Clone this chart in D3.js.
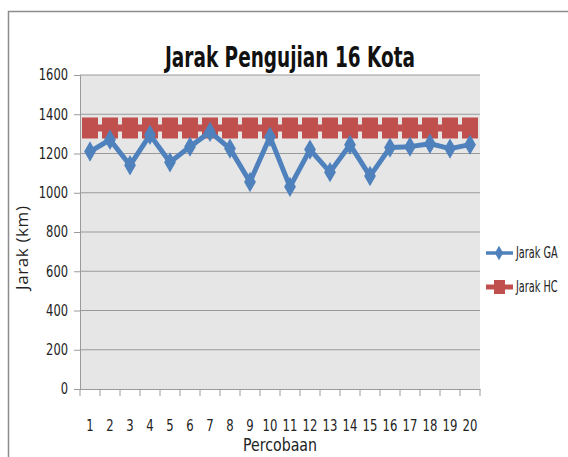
<!DOCTYPE html>
<html><head><meta charset="utf-8">
<script src="https://cdn.jsdelivr.net/npm/d3@7"></script>
<style>body{margin:0;background:#fff}svg{display:block}text{font-family:"Liberation Sans Narrow","DejaVu Sans Condensed",sans-serif}</style>
</head><body>
<script>
const categories = d3.range(1, 21).map(String);
const jarakGA = [1210, 1270, 1140, 1295, 1155, 1235, 1310, 1225, 1055, 1285, 1030, 1220, 1105, 1245, 1085, 1230, 1235, 1250, 1225, 1245];
const jarakHC = Array(20).fill(1330);
const yTicks = [0, 200, 400, 600, 800, 1000, 1200, 1400, 1600];
const seriesNames = ["Jarak GA", "Jarak HC"];
const colors = ["#4f81bd", "#c0504d"];

const W = 568, H = 457;
const svg = d3.select("body").append("svg").attr("width", W).attr("height", H);
svg.append("rect").attr("x", 8.5).attr("y", 11.5).attr("width", W).attr("height", H).attr("fill", "#fff").attr("stroke", "#8c8c8c").attr("stroke-width", 1.5);

const L = 80, R = 480, T = 75, B = 389;
const x = d3.scaleBand().domain(categories).range([L, R]);
const y = d3.scaleLinear().domain([0, 1600]).range([B, T]);

svg.append("rect").attr("x", L).attr("y", T).attr("width", R - L).attr("height", B - T).attr("fill", "#e6e6e6");
svg.append("g").selectAll("line").data(yTicks.slice(1)).join("line")
  .attr("x1", L).attr("x2", R).attr("y1", d => y(d)).attr("y2", d => y(d))
  .attr("stroke", "#9a9a9a").attr("stroke-width", 1);

const ya = svg.append("g").attr("transform", `translate(${L},0)`)
  .call(d3.axisLeft(y).tickValues(yTicks).tickFormat(d3.format("d")).tickSize(6).tickPadding(6));
ya.select(".domain").attr("stroke", "#9a9a9a");
ya.selectAll(".tick line").attr("stroke", "#9a9a9a");
ya.selectAll("text").attr("font-size", 15).attr("fill", "#222")
  .attr("textLength", d => String(d).length * 7.3).attr("lengthAdjust", "spacingAndGlyphs");

const xa = svg.append("g").attr("transform", `translate(0,${B})`)
  .call(d3.axisBottom(x).tickSize(0).tickPadding(31));
xa.select(".domain").attr("stroke", "#9a9a9a");
xa.selectAll("text").attr("font-size", 15).attr("fill", "#222")
  .attr("textLength", d => d.length * 7.4).attr("lengthAdjust", "spacingAndGlyphs");
svg.append("g").selectAll("line").data(categories.concat(["end"])).join("line")
  .attr("x1", (d, i) => L + i * x.step()).attr("x2", (d, i) => L + i * x.step())
  .attr("y1", B).attr("y2", B + 7).attr("stroke", "#9a9a9a");

const cx = d => x(d) + x.bandwidth() / 2;
const line = d3.line().x((d, i) => cx(categories[i])).y(d => y(d));

// HC series
svg.append("path").datum(jarakHC).attr("d", line).attr("fill", "none").attr("stroke", colors[1]).attr("stroke-width", 7);
svg.append("g").selectAll("rect").data(jarakHC).join("rect")
  .attr("x", (d, i) => cx(categories[i]) - 8).attr("y", d => y(d) - 10.5)
  .attr("width", 16).attr("height", 21).attr("fill", colors[1]);

// GA series
svg.append("path").datum(jarakGA).attr("d", line).attr("fill", "none").attr("stroke", colors[0]).attr("stroke-width", 5).attr("stroke-linejoin", "round");
const diamond = d3.symbol().type(d3.symbolDiamond).size(120);
svg.append("g").selectAll("path").data(jarakGA).join("path")
  .attr("transform", (d, i) => `translate(${cx(categories[i])},${y(d)})`)
  .attr("d", diamond).attr("fill", colors[0]);

// title & axis titles
svg.append("text").attr("x", 290).attr("y", 67).attr("text-anchor", "middle")
  .attr("font-size", 28).attr("font-weight", "bold").attr("fill", "#111")
  .attr("textLength", 250).attr("lengthAdjust", "spacingAndGlyphs").text("Jarak Pengujian 16 Kota");
svg.append("text").attr("transform", `translate(28,248) rotate(-90)`).attr("text-anchor", "middle")
  .style("font-family", "'Open Sans',sans-serif").attr("font-size", 17).attr("fill", "#222")
  .attr("textLength", 84).attr("lengthAdjust", "spacing").text("Jarak (km)");
svg.append("text").attr("x", 280).attr("y", 451).attr("text-anchor", "middle")
  .attr("font-size", 17).attr("fill", "#222")
  .attr("textLength", 74).attr("lengthAdjust", "spacingAndGlyphs").text("Percobaan");

// legend
const lg = svg.append("g");
[253, 287].forEach((ly, i) => {
  lg.append("line").attr("x1", 486).attr("x2", 513).attr("y1", ly).attr("y2", ly).attr("stroke", colors[i]).attr("stroke-width", i ? 5 : 3.5);
  if (i) lg.append("rect").attr("x", 494).attr("y", ly - 7).attr("width", 11).attr("height", 14).attr("fill", colors[i]);
  else lg.append("path").attr("transform", `translate(499,${ly})`).attr("d", d3.symbol().type(d3.symbolDiamond).size(60)).attr("fill", colors[i]);
  lg.append("text").attr("transform", `translate(516,${ly + 5}) scale(0.72,1)`).attr("font-size", 15).attr("fill", "#222")
    .text(seriesNames[i]);
});
</script>
</body></html>
